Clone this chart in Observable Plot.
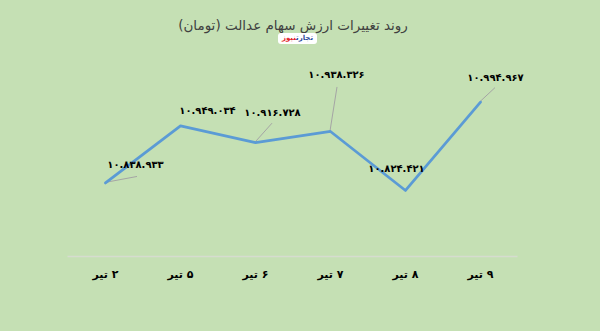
<!DOCTYPE html>
<html>
<head>
<meta charset="utf-8">
<script src="https://cdn.jsdelivr.net/npm/d3@7"></script>
<script src="https://cdn.jsdelivr.net/npm/@observablehq/plot@0.6"></script>
<style>
  html, body { margin: 0; padding: 0; background: #c5e0b4; }
  #wrap { width: 600px; height: 331px; background: #c5e0b4; overflow: hidden; }
  #header { position: relative; width: 600px; height: 50px; }
  #title { position: absolute; left: 0; top: 15px; width: 586px; text-align: center;
    font-family: "DejaVu Sans", sans-serif; font-size: 13.5px; line-height: 20px; color: #404040; direction: rtl; }
  #logo { position: absolute; left: 278px; top: 33px; width: 39px; height: 11px; background: #fff;
    border-radius: 3px; font-family: "DejaVu Sans", sans-serif; font-size: 7px; font-weight: bold;
    line-height: 11px; text-align: center; direction: rtl; }
  #logo .a { color: #2b4a9b; }
  #logo .b { color: #e3262b; }
</style>
</head>
<body>
<div id="wrap">
  <div id="header">
    <div id="title">روند تغییرات ارزش سهام عدالت (تومان)</div>
    <div id="logo"><span class="a">تجارت</span><span class="b">نیوز</span></div>
  </div>
  <div id="chart"></div>
</div>
<script>
const dates = ["۲ تیر", "۵ تیر", "۶ تیر", "۷ تیر", "۸ تیر", "۹ تیر"];
const values = [10838933, 10949034, 10916728, 10938326, 10824421, 10994967];
// label placement (pixel offsets from each point), as positioned in the original
const labelOffsets = [[30, -18], [27, -15], [17, -30], [6, -57], [-9, -22], [15, -24]];
const leaderOffsets = [[32, -6], null, [17, -19], [7, -44], null, [15, -14]];

const faDigits = "۰۱۲۳۴۵۶۷۸۹";
const toFa = s => String(s).replace(/[0-9]/g, c => faDigits[+c]);
const fmt = v => toFa(d3.format(",")(v).replace(/,/g, "."));

const data = dates.map((date, i) => ({date, value: values[i]}));

const leaders = (index, scales) => {
  const g = d3.create("svg:g");
  data.forEach((d, i) => {
    const o = leaderOffsets[i];
    if (!o) return;
    const x = scales.x(d.date), y = scales.y(d.value);
    g.append("line")
      .attr("x1", x).attr("y1", y)
      .attr("x2", x + o[0]).attr("y2", y + o[1])
      .attr("stroke", "#a5a5a5").attr("stroke-width", 1);
  });
  return g.node();
};

const chart = Plot.plot({
  width: 600,
  height: 281,
  marginTop: 49,
  marginBottom: 75,
  marginLeft: 67.5,
  marginRight: 82.5,
  style: {background: "transparent", fontFamily: "DejaVu Sans, sans-serif", fontWeight: "bold", color: "#000"},
  x: {type: "point", domain: dates, padding: 0.5, label: null},
  y: {domain: [10697000, 11000000], axis: null},
  marks: [
    Plot.ruleY([10697000], {stroke: "#d6dccf", strokeWidth: 1.5}),
    Plot.axisX({tickSize: 0, tickPadding: 14, fontSize: 11, fontWeight: "bold", label: null, tickFormat: d => "\u200F" + d}),
    leaders,
    Plot.line(data, {x: "date", y: "value", stroke: "#5b9bd5", strokeWidth: 2.75, strokeLinejoin: "round"}),
    ...data.map((d, i) => Plot.text([d], {
      x: "date", y: "value", text: d => fmt(d.value),
      dx: labelOffsets[i][0], dy: labelOffsets[i][1],
      fontSize: 10, fontWeight: "bold", fill: "#000"
    }))
  ]
});
document.getElementById("chart").appendChild(chart);
</script>
</body>
</html>
